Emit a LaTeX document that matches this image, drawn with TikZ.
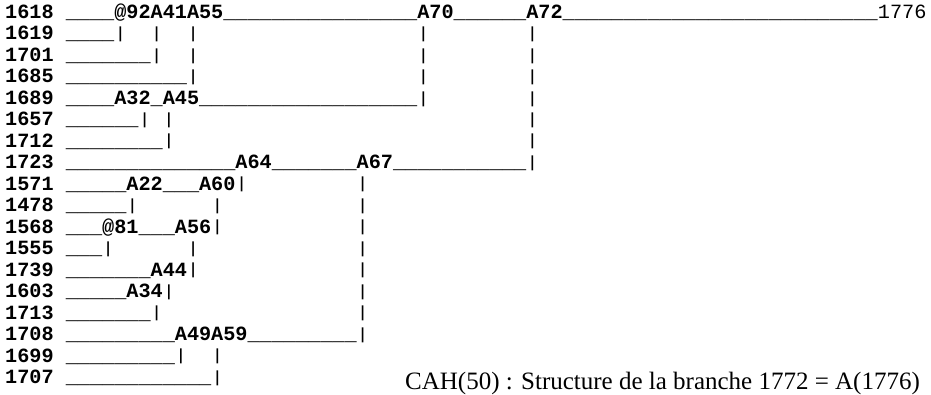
\documentclass[tikz,border=0pt]{standalone}
\usepackage{fontspec}
\usepackage{graphicx}
\setmainfont{Liberation Serif}
\newfontfamily\monob{Liberation Mono}
\ExplSyntaxOn
\NewDocumentCommand\us{m}{\prg_replicate:nn{#1}{\textunderscore}}
\NewDocumentCommand\sk{m}{\prg_replicate:nn{#1}{\nobreakspace}}
\ExplSyntaxOff
\newcommand\vb{{\mdseries\raisebox{-2pt}{\resizebox{\width}{15pt}{\raisebox{\depth}{|}}}}}
\begin{document}
\begin{tikzpicture}[x=1pt,y=1pt,
  row/.style={anchor=base west, inner sep=0pt, text height=13pt, text depth=5pt,
    font=\monob\bfseries\fontsize{20.2}{21.5}\selectfont},
  caption/.style={anchor=base west, inner sep=0pt, font=\fontsize{25}{30}\selectfont}]
\useasboundingbox (0,0) rectangle (931,-394);
\node[row] (r0)  at (5,-18.5)   {1618\sk1\us4@92A41A55\us{16}A70\us6A72\us{26}{\mdseries 1776}};
\node[row] (r1)  at (5,-39.97)  {1619\sk1\us4\vb\sk2\vb\sk2\vb\sk{18}\vb\sk8\vb};
\node[row] (r2)  at (5,-61.44)  {1701\sk1\us7\vb\sk2\vb\sk{18}\vb\sk8\vb};
\node[row] (r3)  at (5,-82.91)  {1685\sk1\us{10}\vb\sk{18}\vb\sk8\vb};
\node[row] (r4)  at (5,-104.38) {1689\sk1\us4A32\us1A45\us{18}\vb\sk8\vb};
\node[row] (r5)  at (5,-125.85) {1657\sk1\us6\vb\sk1\vb\sk{29}\vb};
\node[row] (r6)  at (5,-147.32) {1712\sk1\us8\vb\sk{29}\vb};
\node[row] (r7)  at (5,-168.79) {1723\sk1\us{14}A64\us7A67\us{11}\vb};
\node[row] (r8)  at (5,-190.26) {1571\sk1\us5A22\us3A60\vb\sk9\vb};
\node[row] (r9)  at (5,-211.73) {1478\sk1\us5\vb\sk6\vb\sk{11}\vb};
\node[row] (r10) at (5,-233.2)  {1568\sk1\us3@81\us3A56\vb\sk{11}\vb};
\node[row] (r11) at (5,-254.67) {1555\sk1\us3\vb\sk6\vb\sk{13}\vb};
\node[row] (r12) at (5,-276.14) {1739\sk1\us7A44\vb\sk{13}\vb};
\node[row] (r13) at (5,-297.61) {1603\sk1\us5A34\vb\sk{15}\vb};
\node[row] (r14) at (5,-319.08) {1713\sk1\us7\vb\sk{16}\vb};
\node[row] (r15) at (5,-340.55) {1708\sk1\us9A49A59\us9\vb};
\node[row] (r16) at (5,-362.02) {1699\sk1\us9\vb\sk2\vb};
\node[row] (r17) at (5,-383.49) {1707\sk1\us{12}\vb};
\node[caption] (cap) at (405,-389) {CAH(50) : Structure de la branche 1772 = A(1776)};
\end{tikzpicture}
\end{document}
